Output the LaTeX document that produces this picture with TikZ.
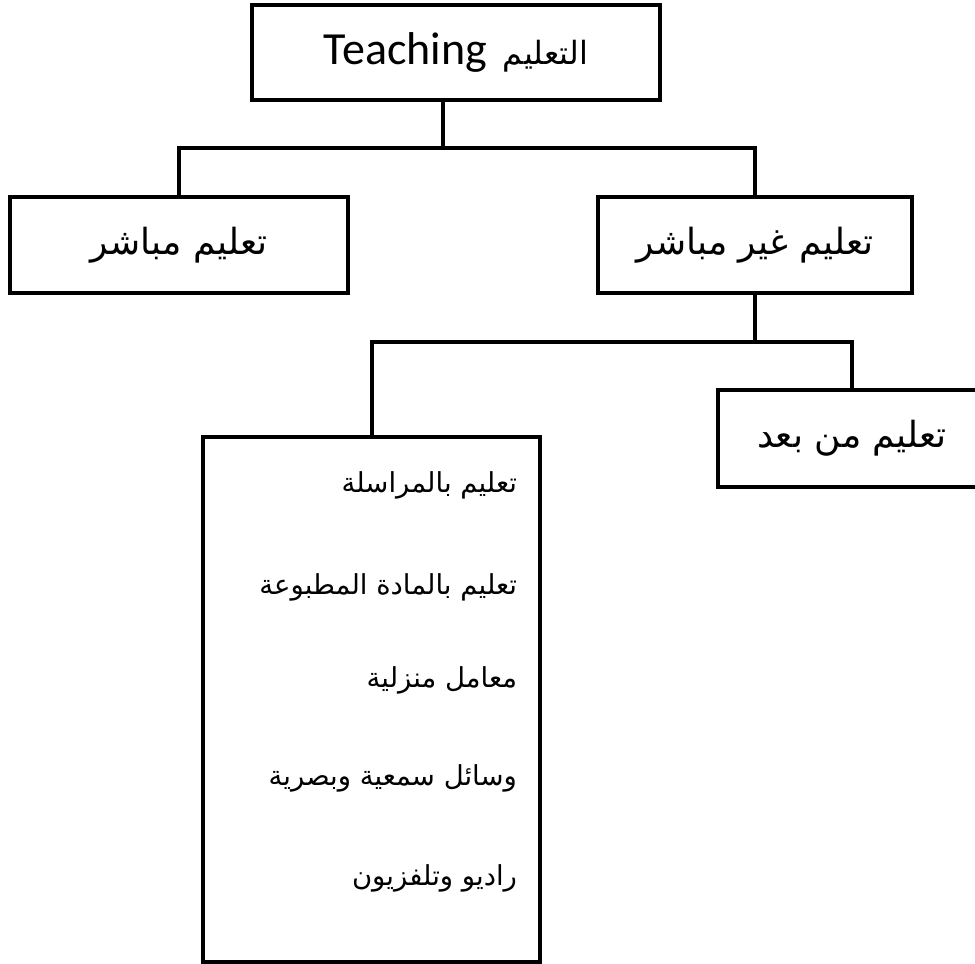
\documentclass[tikz,border=0pt]{standalone}
\usepackage{fontspec}
\setmainfont{Carlito}
\newfontfamily\arabicfont[Script=Arabic]{DejaVu Sans}
\TeXXeTstate=1
\usetikzlibrary{positioning,calc}
\newcommand{\ar}[1]{{\arabicfont\beginR #1\endR}}

\begin{document}
\begin{tikzpicture}[x=1pt,y=-1pt,line width=4pt,
  box/.style={draw,line width=4pt,inner sep=0pt,font=\fontsize{36}{38}\selectfont},
  item/.style={anchor=east,inner sep=0pt,font=\fontsize{27.5}{30}\selectfont}]
\useasboundingbox (0,0) rectangle (975,964);
\node[box,minimum width=408pt,minimum height=95pt] (top) at (456,52.5) {\fontsize{46}{48}\selectfont Teaching\hspace{16pt}\fontsize{32}{34}\selectfont\ar{التعليم}};
\node[box,minimum width=338pt,minimum height=96pt] (direct) at (179,245) {\ar{تعليم مباشر}};
\node[box,minimum width=314pt,minimum height=96pt] (indirect) at (755,245) {\ar{تعليم غير مباشر}};
\node[box,minimum width=268pt,minimum height=97pt] (distance) at (852,438.5) {\ar{تعليم من بعد}};
\node[box,minimum width=337pt,minimum height=525pt] (list) at (371.5,699.5) {};
% items of the print/media box
\node[item] (i1) at (519,485) {\ar{تعليم بالمراسلة}};
\node[item] (i2) at (519,587) {\ar{تعليم بالمادة المطبوعة}};
\node[item] (i3) at (519,680) {\ar{معامل منزلية}};
\node[item] (i4) at (519,778) {\ar{وسائل سمعية وبصرية}};
\node[item] (i5) at (519,878) {\ar{راديو وتلفزيون}};
% connectors
\coordinate (j1) at (443,148);
\coordinate (j2) at (755,342);
\draw (top.south -| j1) -- (j1);
\draw (direct.north) |- (j1) -| (indirect.north);
\draw (indirect.south) -- (j2);
\draw (list.north) |- (j2) -| (distance.north);
\end{tikzpicture}
\end{document}
